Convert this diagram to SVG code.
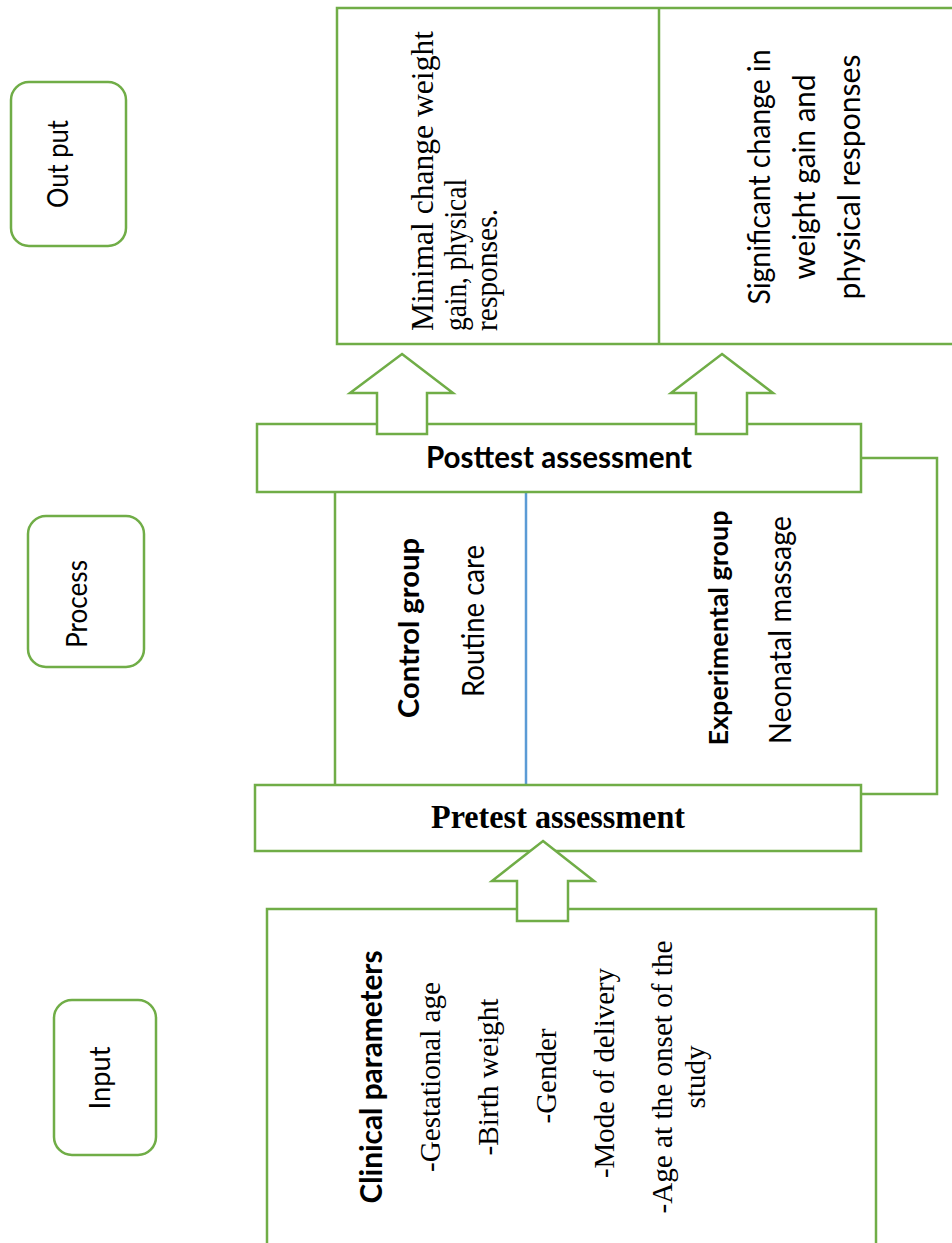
<svg xmlns="http://www.w3.org/2000/svg" width="952" height="1243" viewBox="0 0 952 1243">
<style>
.box{fill:#fff;stroke:#70AD47;stroke-width:2.5}
.ln{fill:none;stroke:#70AD47;stroke-width:2.5}
.blue{fill:none;stroke:#5B9BD5;stroke-width:2.5}
.arr{fill:#fff;stroke:#70AD47;stroke-width:2.5;stroke-linejoin:miter}
.sans{font-family:Lato,"Open Sans","Liberation Sans",sans-serif;fill:#000}
.serif{font-family:"Liberation Serif","Times New Roman",serif;fill:#000}
.b{font-weight:bold}
</style>
<rect width="952" height="1243" fill="#fff"/>

<g id="label-output">
<rect class="box" x="11" y="82" width="115" height="164" rx="18"/>
<text class="sans" font-size="28" text-anchor="middle" transform="translate(68,164) rotate(-90)" textLength="88" lengthAdjust="spacingAndGlyphs">Out put</text>
</g>
<g id="label-process">
<rect class="box" x="28" y="516" width="116" height="151" rx="18"/>
<text class="sans" font-size="28" text-anchor="middle" transform="translate(87,604) rotate(-90)" textLength="88" lengthAdjust="spacingAndGlyphs">Process</text>
</g>
<g id="label-input">
<rect class="box" x="54" y="1000" width="102" height="155" rx="18"/>
<text class="sans" font-size="28" text-anchor="middle" transform="translate(110,1078) rotate(-90)" textLength="63" lengthAdjust="spacingAndGlyphs">Input</text>
</g>

<g id="output-box">
<rect class="box" x="337" y="8" width="630" height="336"/>
<line class="ln" x1="659" y1="8" x2="659" y2="344"/>
</g>
<g id="output-control">
<text class="serif" font-size="32" transform="translate(433,331) rotate(-90)" textLength="300" lengthAdjust="spacingAndGlyphs">Minimal change weight</text>
<text class="serif" font-size="32" transform="translate(466,331) rotate(-90)" textLength="152" lengthAdjust="spacingAndGlyphs">gain, physical</text>
<text class="serif" font-size="32" transform="translate(497,331) rotate(-90)" textLength="122" lengthAdjust="spacingAndGlyphs">responses.</text>
</g>
<g id="output-experimental">
<text class="sans" font-size="31" text-anchor="middle" transform="translate(770,177) rotate(-90)" textLength="255" lengthAdjust="spacingAndGlyphs">Significant change in</text>
<text class="sans" font-size="31" text-anchor="middle" transform="translate(815,177) rotate(-90)" textLength="205" lengthAdjust="spacingAndGlyphs">weight gain and</text>
<text class="sans" font-size="31" text-anchor="middle" transform="translate(860,177) rotate(-90)" textLength="245" lengthAdjust="spacingAndGlyphs">physical responses</text>
</g>

<g id="connectors">
<line class="ln" x1="335" y1="492" x2="335" y2="785"/>
<line class="blue" x1="526" y1="492" x2="526" y2="785"/>
<polyline class="ln" points="861,458 937,458 937,794 861,794"/>
</g>

<g id="posttest">
<rect class="box" x="257" y="424" width="604" height="68"/>
<text class="sans b" font-size="31" text-anchor="middle" x="559" y="468" textLength="266" lengthAdjust="spacingAndGlyphs">Posttest assessment</text>
</g>

<g id="control-group">
<text class="sans b" font-size="29" text-anchor="middle" transform="translate(419,628) rotate(-90)" textLength="180" lengthAdjust="spacingAndGlyphs">Control group</text>
<text class="sans" font-size="30" text-anchor="middle" transform="translate(484,621) rotate(-90)" textLength="152" lengthAdjust="spacingAndGlyphs">Routine care</text>
</g>
<g id="experimental-group">
<text class="sans b" font-size="26" text-anchor="middle" transform="translate(728,628) rotate(-90)" textLength="235" lengthAdjust="spacingAndGlyphs">Experimental group</text>
<text class="sans" font-size="30" text-anchor="middle" transform="translate(791,630) rotate(-90)" textLength="228" lengthAdjust="spacingAndGlyphs">Neonatal massage</text>
</g>

<g id="pretest">
<rect class="box" x="255" y="785" width="606" height="66"/>
<text class="serif b" font-size="34" text-anchor="middle" x="558" y="828" textLength="254" lengthAdjust="spacingAndGlyphs">Pretest assessment</text>
</g>

<g id="input-box">
<rect class="box" x="267" y="909" width="609" height="350"/>
<text class="sans b" font-size="30" text-anchor="middle" transform="translate(382,1077) rotate(-90)" textLength="253" lengthAdjust="spacingAndGlyphs">Clinical parameters</text>
<text class="serif" font-size="30" text-anchor="middle" transform="translate(440,1077) rotate(-90)" textLength="190" lengthAdjust="spacingAndGlyphs">-Gestational age</text>
<text class="serif" font-size="30" text-anchor="middle" transform="translate(498,1077) rotate(-90)" textLength="157" lengthAdjust="spacingAndGlyphs">-Birth weight</text>
<text class="serif" font-size="30" text-anchor="middle" transform="translate(556,1076) rotate(-90)" textLength="95" lengthAdjust="spacingAndGlyphs">-Gender</text>
<text class="serif" font-size="30" text-anchor="middle" transform="translate(614,1073) rotate(-90)" textLength="210" lengthAdjust="spacingAndGlyphs">-Mode of delivery</text>
<text class="serif" font-size="30" text-anchor="middle" transform="translate(672,1077) rotate(-90)" textLength="273" lengthAdjust="spacingAndGlyphs">-Age at the onset of the</text>
<text class="serif" font-size="30" text-anchor="middle" transform="translate(705,1077) rotate(-90)" textLength="63" lengthAdjust="spacingAndGlyphs">study</text>
</g>

<g id="arrows">
<polygon class="arr" points="402,354 453,393 427,393 427,434 377,434 377,393 350,393"/>
<polygon class="arr" points="722,354 773,393 747,393 747,434 696,434 696,393 671,393"/>
<polygon class="arr" points="543,841 594,881 568,881 568,921 517,921 517,881 492,881"/>
</g>
</svg>
